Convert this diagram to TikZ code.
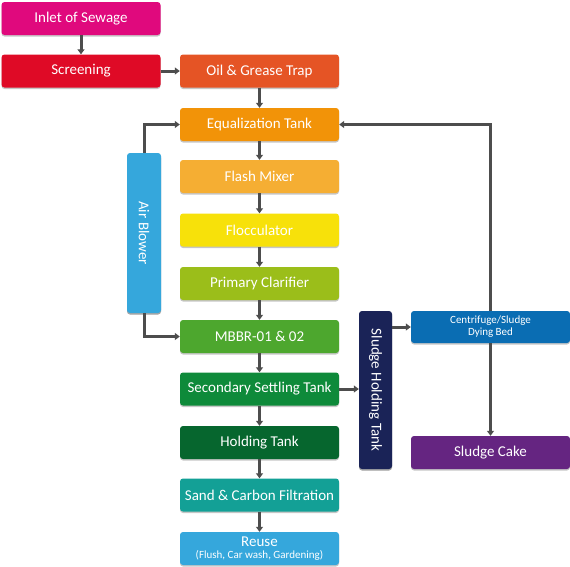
\documentclass[tikz,border=0pt]{standalone}
\usepackage{fontspec}
\usepackage{xcolor}
\setmainfont{Carlito}
\usetikzlibrary{arrows.meta,shadows}

\definecolor{inletc}{HTML}{E0097D}
\definecolor{screenc}{HTML}{DF0A26}
\definecolor{oilc}{HTML}{E55425}
\definecolor{equalc}{HTML}{F29308}
\definecolor{flashc}{HTML}{F5AE33}
\definecolor{flocc}{HTML}{F7E10A}
\definecolor{primc}{HTML}{9BBE1A}
\definecolor{mbbrc}{HTML}{4DA72E}
\definecolor{secc}{HTML}{0E8A3A}
\definecolor{holdc}{HTML}{06662E}
\definecolor{sandc}{HTML}{13A096}
\definecolor{reusec}{HTML}{35A7DC}
\definecolor{airc}{HTML}{35A7DC}
\definecolor{shtc}{HTML}{1A2357}
\definecolor{centc}{HTML}{0A6DB3}
\definecolor{cakec}{HTML}{652581}
\definecolor{linec}{HTML}{4D4D4D}

\tikzset{
  box/.style={rounded corners=3pt, minimum width=159pt, minimum height=33pt,
              inner sep=1pt, text=white, font=\fontsize{15}{16}\selectfont,
              drop shadow={shadow xshift=0pt, shadow yshift=-1.5pt, opacity=0.45}},
  tallbox/.style={box, minimum width=160pt, minimum height=34pt, rotate=-90}
}

\begin{document}
\begin{tikzpicture}[x=1pt,y=-1pt]
            \useasboundingbox (0,0) rectangle (570,566);
            \begin{scope}[every node/.style = {box}]
                \node[fill=inletc]  (inlet)  at (81, 18.5)    {Inlet of Sewage};
                \node[fill=screenc] (screen) at (81, 71)      {Screening};
                \node[fill=oilc]    (oil)    at (259.5, 71)   {Oil \& Grease Trap};
                \node[fill=equalc]  (equal)  at (259.5, 124.5) {Equalization Tank};
                \node[fill=flashc]  (flash)  at (259.5, 176.5) {Flash Mixer};
                \node[fill=flocc]   (floc)   at (259.5, 230)   {Flocculator};
                \node[fill=primc]   (prim)   at (259.5, 283.5) {Primary Clarifier};
                \node[fill=mbbrc]   (mbbr)   at (259.5, 336.5) {MBBR-01 \& 02};
                \node[fill=secc]    (sec)    at (259.5, 389)   {Secondary Settling Tank};
                \node[fill=holdc]   (hold)   at (259.5, 442.5) {Holding Tank};
                \node[fill=sandc]   (sand)   at (259.5, 495)   {Sand \& Carbon Filtration};
                \node[fill=reusec, align=center] (reuse) at (259.5, 548.5)
                    {Reuse\\[-4pt]{\fontsize{11}{12}\selectfont(Flush, Car wash, Gardening)}};
                \node[fill=centc, align=center, font=\fontsize{11}{12}\selectfont, minimum height=32pt]
                    (cent) at (490.5, 327) {Centrifuge/Sludge\\Dying Bed};
                \node[fill=cakec]   (cake)   at (490.5, 452.5) {Sludge Cake};
                \node[tallbox, fill=airc] (air) at (144, 233) {Air Blower};
                \node[tallbox, fill=shtc, minimum width=158pt, minimum height=33pt]
                    (sht) at (375.5, 390) {Sludge Holding Tank};
            \end{scope}

            \begin{scope}[>={Triangle[length=5pt,width=7pt]},
                            every path/.style={draw=linec, line width=3pt}]
                \path [->] (inlet) -- (screen);
                \path [->] (screen) -- (oil);
                \path [->] (oil) -- (equal);
                \path [->] (equal) -- (flash);
                \path [->] (flash) -- (floc);
                \path [->] (floc) -- (prim);
                \path [->] (prim) -- (mbbr);
                \path [->] (mbbr) -- (sec);
                \path [->] (sec) -- (hold);
                \path [->] (hold) -- (sand);
                \path [->] (sand) -- (reuse);
                \path [->] (air.west) |- (equal.west);
                \path [->] (air.east) |- (mbbr.west);
                \path [->] (sec.east) -- (sec.east -| sht.south);
                \path [->] (cent.west -| sht.north) -- (cent.west);
                \path [->] (cent) -- (cake);
                \path [->] (cent.north) |- (equal.east);
            \end{scope}
        \end{tikzpicture}
\end{document}
